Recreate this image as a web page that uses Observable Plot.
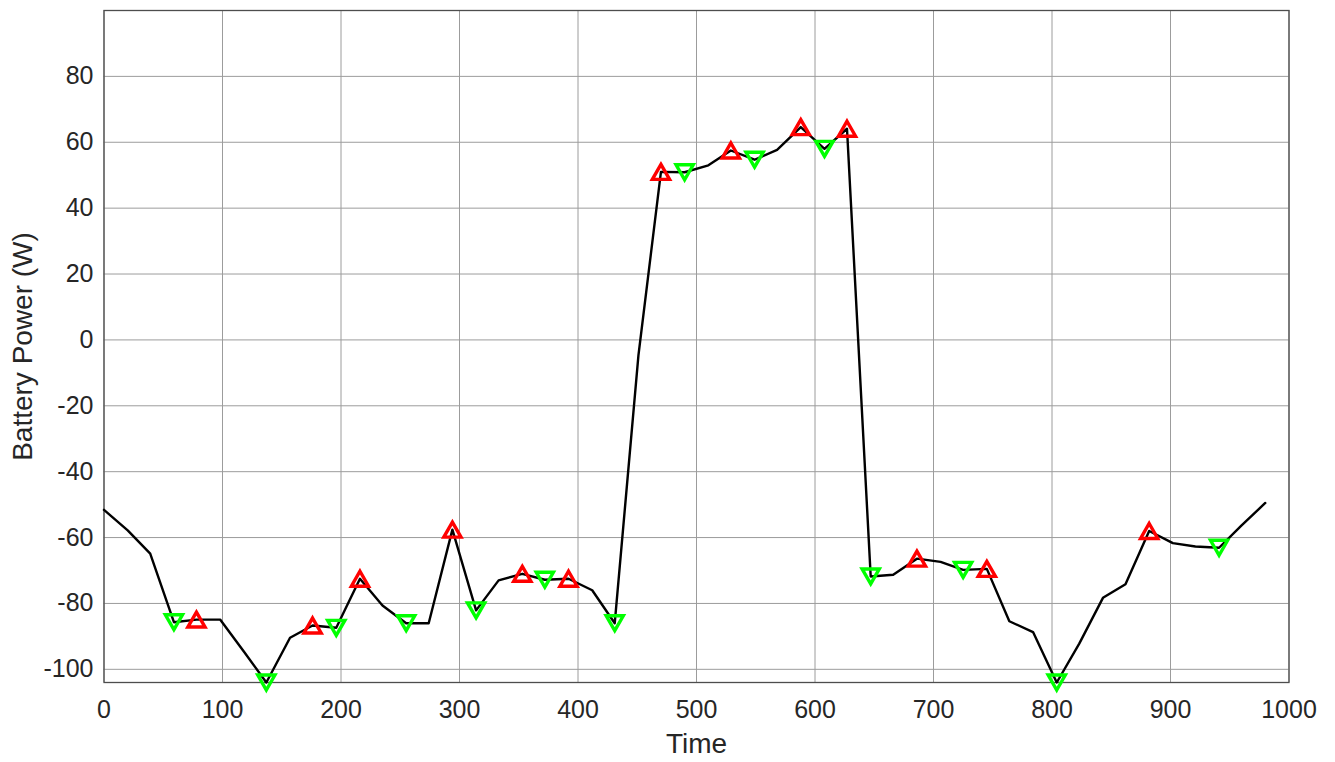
<!DOCTYPE html>
<html>
<head>
<meta charset="utf-8">
<script src="https://cdn.jsdelivr.net/npm/d3@7"></script>
<script src="https://cdn.jsdelivr.net/npm/@observablehq/plot@0.6"></script>
<style>
  html, body { margin: 0; padding: 0; background: #fff; }
  #chart svg { display: block; }
</style>
</head>
<body>
<div id="chart"></div>
<script>
// Sample times
const time = [0, 20, 39, 59, 78, 98, 118, 137, 157, 176, 196, 216, 235, 255, 274, 294, 314, 333, 353, 372,
  392, 412, 431, 451, 470, 490, 510, 529, 549, 568, 588, 608, 627, 647, 666, 686, 706, 725, 745, 764,
  784, 804, 823, 843, 862, 882, 902, 921, 941, 960, 980];
// Battery power (W)
const power = [-51.6, -57.8, -64.9, -85.7, -84.9, -84.9, -94.6, -104, -90.4, -86.7, -87.4, -72.5, -80.6, -86, -86, -57.6,
  -82.1, -73, -71, -72.8, -72.5, -76, -86, -4.7, 51, 50.9, 53, 57.5, 54.7, 57.7, 64.6, 58, 64.1,
  -71.8, -71.3, -66.4, -67.4, -69.8, -69.5, -85.4, -88.7, -104, -92.2, -78.3, -74.2, -58, -61.7, -62.7, -63.1, -56.3, -49.5];
// Times of local peaks (red, up-triangles) and valleys (green, down-triangles)
const peakTimes = [78, 176, 216, 294, 353, 392, 470, 529, 588, 627, 686, 745, 882];
const valleyTimes = [59, 137, 196, 255, 314, 372, 431, 490, 549, 608, 647, 725, 804, 941];
// Tick values
const xTicks = [0, 100, 200, 300, 400, 500, 600, 700, 800, 900, 1000];
const yTicks = [-100, -80, -60, -40, -20, 0, 20, 40, 60, 80];
const xLabel = "Time";
const yLabel = "Battery Power (W)";

const data = time.map((t, i) => ({t, p: power[i]}));
const peaks = data.filter(d => peakTimes.includes(d.t));
const valleys = data.filter(d => valleyTimes.includes(d.t));

const triUp = {
  draw(ctx, size) {
    const r = Math.sqrt(size / Math.PI);
    const h = 0.87 * r;
    ctx.moveTo(0, -h); ctx.lineTo(r, h); ctx.lineTo(-r, h); ctx.closePath();
  }
};
const triDown = {
  draw(ctx, size) {
    const r = Math.sqrt(size / Math.PI);
    const h = 0.87 * r;
    ctx.moveTo(0, h); ctx.lineTo(r, -h); ctx.lineTo(-r, -h); ctx.closePath();
  }
};

const font = "'Liberation Sans', Arial, Helvetica, sans-serif";

const chart = Plot.plot({
  width: 1335,
  height: 762,
  marginLeft: 103.5,
  marginRight: 46.5,
  marginTop: 10,
  marginBottom: 80,
  style: {fontFamily: font, fontSize: "25px", color: "#262626", background: "#fff"},
  x: {domain: [0, 1000]},
  y: {domain: [-104, 100]},
  marks: [
    Plot.gridX(xTicks, {stroke: "#9c9c9c", strokeOpacity: 1, strokeWidth: 1}),
    Plot.gridY(yTicks, {stroke: "#9c9c9c", strokeOpacity: 1, strokeWidth: 1}),
    Plot.frame({stroke: "#4d4d4d", strokeWidth: 1.3}),
    Plot.axisX(xTicks, {tickSize: 0, tickPadding: 18, fontSize: 25, tickFormat: d => String(d), label: null}),
    Plot.axisY(yTicks, {tickSize: 0, tickPadding: 10.5, fontSize: 25, tickFormat: d => String(d), label: null}),
    Plot.text([xLabel], {frameAnchor: "bottom", dy: 61.5, lineAnchor: "middle", textAnchor: "middle", fontSize: 28, fill: "#262626"}),
    Plot.text([yLabel], {frameAnchor: "left", dx: -81, rotate: -90, lineAnchor: "middle", textAnchor: "middle", fontSize: 28, fill: "#262626"}),
    Plot.line(data, {x: "t", y: "p", stroke: "#000", strokeWidth: 2.4}),
    Plot.dot(peaks, {x: "t", y: "p", symbol: triUp, r: 8.6, stroke: "#ff0000", strokeWidth: 3.4, fill: "none"}),
    Plot.dot(valleys, {x: "t", y: "p", symbol: triDown, r: 8.6, stroke: "#00ff00", strokeWidth: 3.4, fill: "none"})
  ]
});
document.getElementById("chart").appendChild(chart);
</script>
</body>
</html>
